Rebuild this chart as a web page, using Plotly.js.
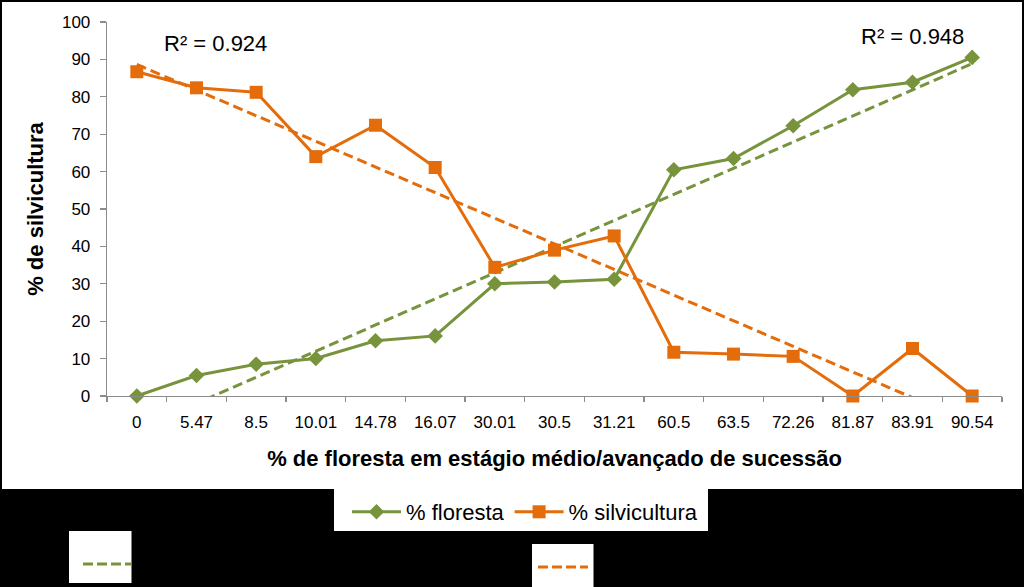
<!DOCTYPE html>
<html>
<head>
<meta charset="utf-8">
<script src="https://cdn.plot.ly/plotly-3.0.1.min.js"></script>
<style>html,body{margin:0;padding:0;background:#000;}#chart{width:1024px;height:587px;}</style>
</head>
<body>
<div id="chart"></div>
<script>
// ---- data ----
const categories = ['0','5.47','8.5','10.01','14.78','16.07','30.01','30.5','31.21','60.5','63.5','72.26','81.87','83.91','90.54'];
const floresta = [0, 5.47, 8.5, 10.01, 14.78, 16.07, 30.01, 30.5, 31.21, 60.5, 63.5, 72.26, 81.87, 83.91, 90.54];
const silvicultura = [86.7, 82.4, 81.2, 64.0, 72.4, 61.1, 34.4, 39.0, 42.8, 11.7, 11.2, 10.6, 0, 12.7, 0];
const seriesNames = ['% floresta', '% silvicultura'];
const r2Labels = ['R² = 0.924', 'R² = 0.948'];
const yTicks = [0,10,20,30,40,50,60,70,80,90,100];

const GREEN = '#77933C';
const ORANGE = '#E46C0A';
const AXIS = '#8C8C8C';
const FONT = 'Liberation Sans, Arial, sans-serif';

// linear trendline (Excel style, on category index 1..n)
function linearTrend(vals){
  const n = vals.length;
  const xs = vals.map((_,i)=>i+1);
  const mx = xs.reduce((a,b)=>a+b,0)/n;
  const my = vals.reduce((a,b)=>a+b,0)/n;
  let sxy=0, sxx=0;
  for(let i=0;i<n;i++){ sxy+=(xs[i]-mx)*(vals[i]-my); sxx+=(xs[i]-mx)*(xs[i]-mx); }
  const b = sxy/sxx, a = my - b*mx;
  return xs.map(x=>a+b*x);
}

// plot-area geometry (pixels) -> paper coordinates for decorations
const L=107, T=22, W=895, PH=374;
const px = v => (v-L)/W;
const py = v => (T+PH-v)/PH;

const traces = [
  {x: categories, y: linearTrend(floresta), type:'scatter', mode:'lines',
   line:{color:GREEN, width:3, dash:'10px,5px'}, showlegend:false, hoverinfo:'skip'},
  {x: categories, y: linearTrend(silvicultura), type:'scatter', mode:'lines',
   line:{color:ORANGE, width:3, dash:'10px,5px'}, showlegend:false, hoverinfo:'skip'},
  {x: categories, y: floresta, type:'scatter', mode:'lines+markers', name: seriesNames[0],
   line:{color:GREEN, width:3}, marker:{symbol:'diamond', size:12, color:GREEN}, cliponaxis:false},
  {x: categories, y: silvicultura, type:'scatter', mode:'lines+markers', name: seriesNames[1],
   line:{color:ORANGE, width:3}, marker:{symbol:'square', size:13, color:ORANGE}, cliponaxis:false}
];

const rect = (x0,y0,x1,y1) => ({type:'rect', xref:'paper', yref:'paper', layer:'below',
  x0:px(x0), x1:px(x1), y0:py(y1), y1:py(y0), fillcolor:'#FFFFFF', line:{width:0}});
const dashLine = (x0,x1,y,c) => ({type:'line', xref:'paper', yref:'paper', layer:'above',
  x0:px(x0), x1:px(x1), y0:py(y), y1:py(y), line:{color:c, width:3, dash:'10px,4px'}});

const layout = {
  width:1024, height:587,
  margin:{l:L, r:1024-L-W, t:T, b:587-T-PH, pad:0},
  paper_bgcolor:'#000000', plot_bgcolor:'#FFFFFF',
  font:{family:FONT, color:'#000000', size:17},
  showlegend:true,
  legend:{orientation:'h', x:px(347), xanchor:'left', y:py(512), yanchor:'middle',
    bgcolor:'rgba(0,0,0,0)', borderwidth:0, font:{family:FONT, size:22, color:'#000'},
    itemwidth:49},
  xaxis:{type:'category', range:[-0.5,14.5], tickson:'boundaries', ticks:'outside', ticklen:5,
    tickcolor:AXIS, tickwidth:1.3, showline:true, linecolor:AXIS, linewidth:1.3, showgrid:false,
    zeroline:false, tickfont:{size:17}, ticklabelstandoff:10,
    title:{text:'% de floresta em estágio médio/avançado de sucessão', font:{size:22, family:FONT, weight:'bold'}, standoff:20}},
  yaxis:{range:[0,100], tickvals:yTicks, ticktext:yTicks.map(String), ticks:'outside', ticklen:6,
    tickcolor:AXIS, tickwidth:1.3, showline:true, linecolor:AXIS, linewidth:1.3, showgrid:false,
    zeroline:false, tickfont:{size:17}, ticklabelstandoff:6,
    title:{text:'% de silvicultura', font:{size:22, family:FONT, weight:'bold'}, standoff:12}},
  shapes:[
    rect(2,2,1022,489),
    rect(334,489,708,531),
    rect(69,531,131.5,583),
    rect(532,544,593.5,587),
    dashLine(83,131.5,564,GREEN),
    dashLine(538,588,567,ORANGE)
  ],
  annotations:[
    {text:r2Labels[0], xref:'paper', yref:'paper', x:px(162), y:py(43), xanchor:'left', yanchor:'middle',
     showarrow:false, font:{size:22, family:FONT}},
    {text:r2Labels[1], xref:'paper', yref:'paper', x:px(859), y:py(36), xanchor:'left', yanchor:'middle',
     showarrow:false, font:{size:22, family:FONT}}
  ]
};

Plotly.newPlot('chart', traces, layout, {staticPlot:true, displayModeBar:false});
</script>
</body>
</html>
